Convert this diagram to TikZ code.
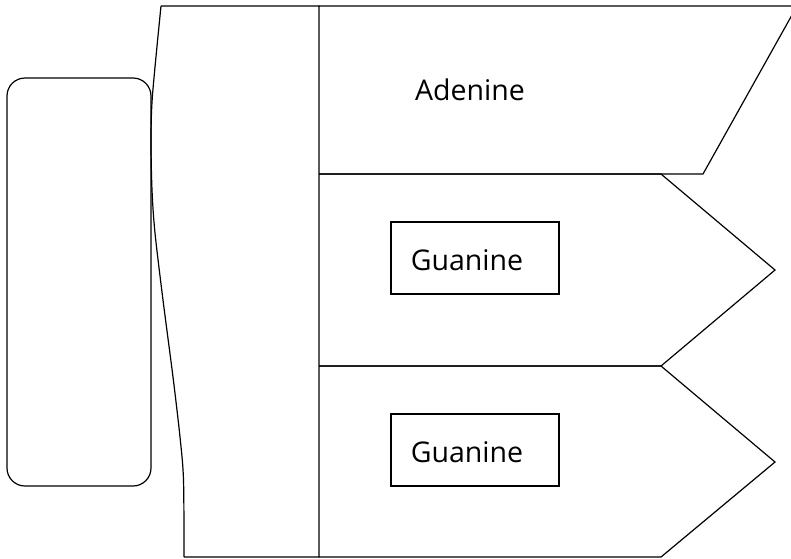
\documentclass[tikz,border=0pt]{standalone}
\usepackage{fontspec}
\setmainfont{Open Sans}
\begin{document}
\begin{tikzpicture}[x=1pt,y=-1pt,line width=1.2pt,line join=miter,
  outline/.style={draw=black},
  label/.style={font=\fontsize{28.5}{32}\selectfont,inner sep=0pt,anchor=base},
  basebox/.style={draw=black,minimum width=168pt,minimum height=72pt,inner sep=0pt}]
  \useasboundingbox (0,0) rectangle (791,558);
  \fill[white] (0,0) rectangle (791,558);

  % rounded block on the left
  \node[draw=black,rounded corners=18pt,minimum width=144pt,minimum height=408pt,inner sep=0pt]
    (side) at (79,282) {};

  % backbone strip with its wavy left edge
  \draw[outline] (161,6) -- (319,6) -- (319,557) -- (184,557)
    plot[smooth,tension=0.5] coordinates {(184,557) (183.5,480) (180,437) (173,377) (163,300) (155,233) (152,190) (151,140) (152.5,95) (161,6)};

  % adenine slab (parallelogram, clipped by the page edge)
  \draw[outline] (319,6) -- (797,6) -- (703,174) -- (319,174);

  % guanine pointers
  \draw[outline] (319,174) -- (661,174) -- (775,270) -- (661,366) -- (319,366);
  \draw[outline] (319,366) -- (661,366) -- (775,462) -- (661,557) -- (319,557);

  % labels
  \node[label] (ade) at (470,100) {Adenine};
  \node[basebox] (g1) at (475,258) {};
  \node[basebox] (g2) at (475,450) {};
  \node[label] (gua1) at (467,270) {Guanine};
  \node[label] (gua2) at (467,462) {Guanine};
\end{tikzpicture}
\end{document}
